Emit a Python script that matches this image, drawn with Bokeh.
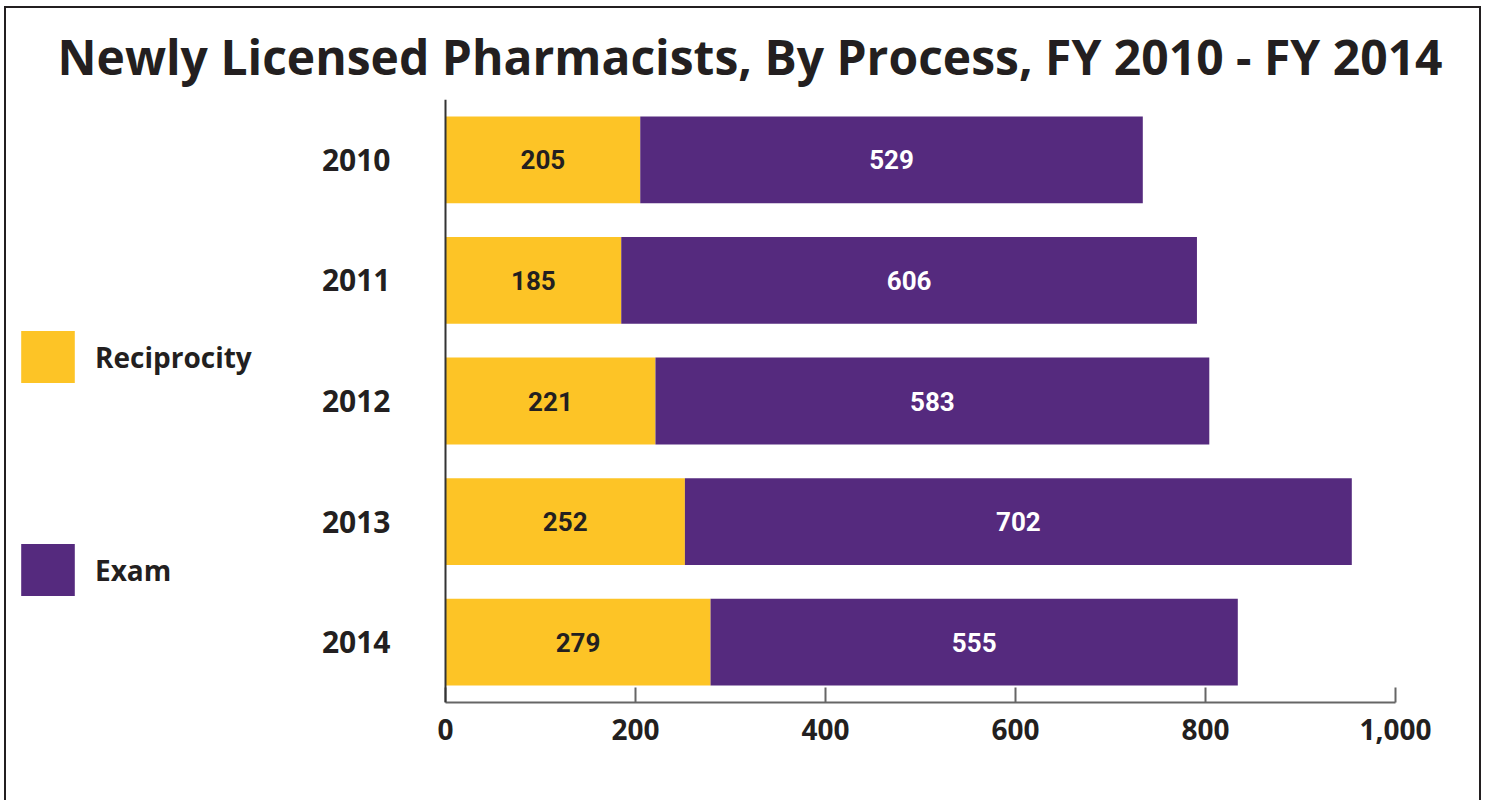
from bokeh.plotting import figure
from bokeh.models import (ColumnDataSource, FactorRange, Range1d, Legend, LegendItem,
                          Title, FixedTicker)
from bokeh.core.properties import value
from bokeh.embed import file_html
from bokeh.resources import INLINE

# ---- data ----
years = ["2010", "2011", "2012", "2013", "2014"]
reciprocity = [205, 185, 221, 252, 279]
exam = [529, 606, 583, 702, 555]
x_ticks = [0, 200, 400, 600, 800, 1000]
x_tick_labels = ["0", "200", "400", "600", "800", "1,000"]
series_names = ["Reciprocity", "Exam"]
title_text = "Newly Licensed Pharmacists, By Process, FY 2010 -  FY 2014"

YELLOW = "#FDC426"
PURPLE = "#552A7E"
DARK = "#231F20"

# ---- layout (pixels) ----
FIG_W, FIG_H = 1477, 794          # placed at page offset (4, 6)
FRAME_L, FRAME_R = 4, 1473        # frame edges inside the figure
AXIS_L, AXIS_R = 441, 1391        # where 0 and 1000 sit inside the figure
px_per_unit = (AXIS_R - AXIS_L) / (x_ticks[-1] - x_ticks[0])
x_start = x_ticks[0] - (AXIS_L - FRAME_L) / px_per_unit
x_end = x_ticks[-1] + (FRAME_R - AXIS_R) / px_per_unit

totals = [r + e for r, e in zip(reciprocity, exam)]
src = ColumnDataSource(dict(
    year=years,
    rec=reciprocity,
    exam=exam,
    total=totals,
    rec_mid=[r / 2 for r in reciprocity],
    exam_mid=[r + e / 2 for r, e in zip(reciprocity, exam)],
    rec_lbl=[str(r) for r in reciprocity],
    exam_lbl=[str(e) for e in exam],
))

p = figure(width=FIG_W, height=FIG_H,
           y_range=FactorRange(factors=years[::-1], range_padding=0),
           x_range=Range1d(x_start, x_end),
           output_backend="svg", toolbar_location=None,
           min_border_left=FRAME_L, min_border_right=FIG_W - FRAME_R,
           min_border_top=93, min_border_bottom=98)
p.styles = {
    "margin-left": "4px",
    "margin-top": "6px",
    "box-shadow": "inset 2px 0 0 0 #231F20, inset -2px 0 0 0 #231F20, inset 0 2px 0 0 #231F20",
}

p.background_fill_color = None
p.border_fill_color = None
p.outline_line_color = None
p.grid.grid_line_color = None

r1 = p.hbar(y="year", left=0, right="rec", height=0.72, fill_color=YELLOW,
            line_color=None, source=src)
r2 = p.hbar(y="year", left="rec", right="total", height=0.72, fill_color=PURPLE,
            line_color=None, source=src)

label_font = value("Roboto")
p.text(x="rec_mid", y="year", text="rec_lbl", source=src, text_align="center",
       text_baseline="middle", text_font=label_font, text_font_style="bold",
       text_font_size="26px", text_color=DARK)
p.text(x="exam_mid", y="year", text="exam_lbl", source=src, text_align="center",
       text_baseline="middle", text_font=label_font, text_font_style="bold",
       text_font_size="26px", text_color="white")

# x axis
xa = p.xaxis[0]
xa.ticker = FixedTicker(ticks=x_ticks)
xa.bounds = (x_ticks[0], x_ticks[-1])
xa.major_label_overrides = {t: l for t, l in zip(x_ticks, x_tick_labels)}
xa.major_tick_in = 15
xa.major_tick_out = 0
xa.minor_tick_line_color = None
xa.axis_line_color = "#666666"
xa.axis_line_width = 2
xa.major_tick_line_color = "#666666"
xa.major_tick_line_width = 2
xa.major_label_text_font = "Open Sans"
xa.major_label_text_font_style = "bold"
xa.major_label_text_font_size = "28px"
xa.major_label_text_color = DARK
xa.major_label_standoff = 16

# y axis, pinned at x = 0
ya = p.yaxis[0]
ya.fixed_location = 0
ya.major_tick_in = 0
ya.major_tick_out = 0
ya.minor_tick_line_color = None
ya.axis_line_color = "#333333"
ya.axis_line_width = 2
ya.major_label_text_font = "Open Sans"
ya.major_label_text_font_style = "bold"
ya.major_label_text_font_size = "30px"
ya.major_label_text_color = DARK
ya.major_label_standoff = 55

p.add_layout(Title(text=title_text, align="left", offset=53 - FRAME_L,
                   text_font_size="48px", text_font="Open Sans",
                   text_font_style="bold", text_color=DARK, standoff=21), "above")

legend = Legend(items=[LegendItem(label=series_names[0], renderers=[r1]),
                       LegendItem(label=series_names[1], renderers=[r2])],
                location=(6, 100), glyph_width=67, glyph_height=65,
                spacing=148, label_standoff=14, padding=0, margin=0,
                border_line_color=None, background_fill_alpha=0,
                label_text_font="Open Sans", label_text_font_style="bold",
                label_text_font_size="28px", label_text_color=DARK)
p.add_layout(legend, "center")

open("out.html", "w").write(file_html(p, INLINE))
